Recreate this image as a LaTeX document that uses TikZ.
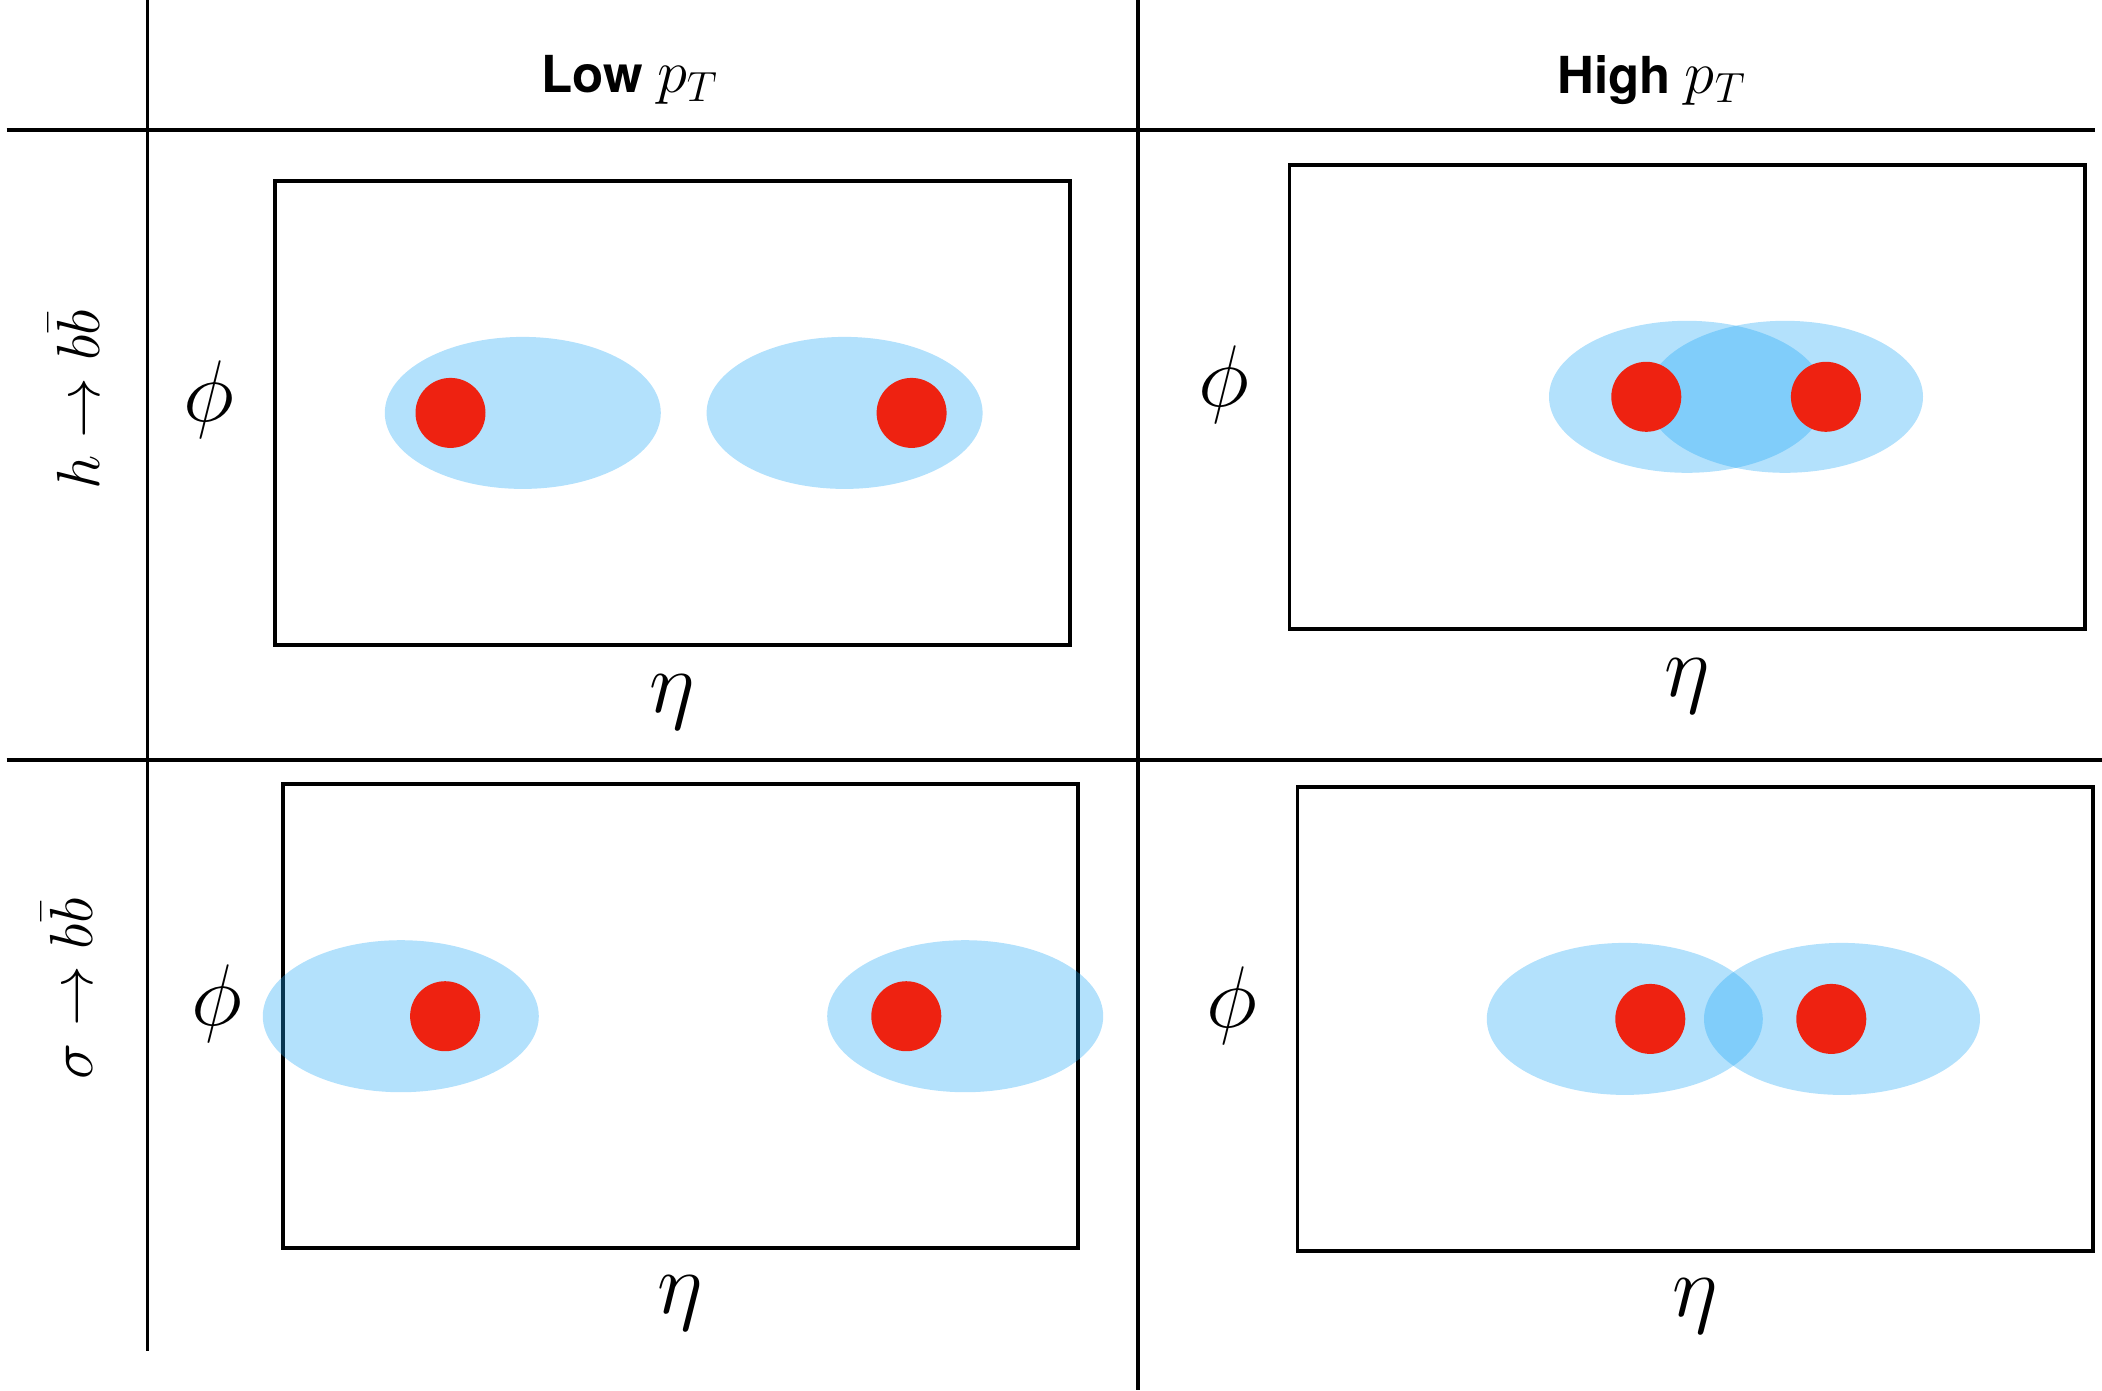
\documentclass[tikz,border=0pt]{standalone}
\usepackage{fontspec}
\setsansfont{TeX Gyre Heros}
\usepackage{tikz}
\usetikzlibrary{positioning,calc}
\definecolor{jetblue}{HTML}{18A4F6}
\definecolor{partonred}{HTML}{EE2211}

\begin{document}
\begin{tikzpicture}[
    x=0.01cm,y=-0.01cm,
    grid/.style={line width=1.1pt},
    panel/.style={draw,line width=1.1pt,minimum width=7.95cm,minimum height=4.638cm,inner sep=0pt},
    jet/.style={fill=jetblue,fill opacity=0.33},
    parton/.style={fill=partonred},
    head/.style={font=\fontsize{14.5}{18}\selectfont\sffamily\bfseries},
    rowlbl/.style={font=\fontsize{18.5}{22}\selectfont,rotate=90},
    axphi/.style={font=\fontsize{27}{30}\selectfont},
    axeta/.style={font=\fontsize{27}{30}\selectfont}
  ]
    \useasboundingbox (0,0) rectangle (2102,1390);

    % table lines
    \draw[grid] (147.5,0) -- (147.5,1351);
    \draw[grid] (1138,0) -- (1138,1390);
    \draw[grid] (6.7,130) -- (2095,130);
    \draw[grid] (6.7,760) -- (2102,760);

    % headers
    \node[head] (low) at (630,80) {Low \fontsize{17}{20}\selectfont$p_T$};
    \node[head] (high) at (1652,80) {High \fontsize{17}{20}\selectfont$p_T$};
    \node[rowlbl] (rowh) at (74,400) {$h \to b\bar{b}$};
    \node[rowlbl] (rowsig) at (67,989) {$\sigma \to b\bar{b}$};

    % panels
    \node[panel] (lowh) at (672.3,412.9) {};
    \node[panel] (highh) at (1687.2,396.8) {};
    \node[panel] (lowsig) at (680.4,1016.2) {};
    \node[panel] (highsig) at (1695.2,1018.9) {};

    \node[axphi] (phi1) at ([xshift=-0.64cm,yshift=0.13cm]lowh.west) {$\phi$};
    \node[axphi] (phi2) at ([xshift=-0.64cm,yshift=0.12cm]highh.west) {$\phi$};
    \node[axphi] (phi3) at ([xshift=-0.64cm,yshift=0.13cm]lowsig.west) {$\phi$};
    \node[axphi] (phi4) at ([xshift=-0.64cm,yshift=0.13cm]highsig.west) {$\phi$};
    \node[axeta] (eta1) at ([yshift=-0.55cm]lowh.south) {$\eta$};
    \node[axeta] (eta2) at ([yshift=-0.55cm]highh.south) {$\eta$};
    \node[axeta] (eta3) at ([yshift=-0.53cm]lowsig.south) {$\eta$};
    \node[axeta] (eta4) at ([yshift=-0.53cm]highsig.south) {$\eta$};

    % jets
    \fill[jet] (522.8,412.9) ellipse [x radius=138,y radius=76];
    \fill[jet] (844.6,412.9) ellipse [x radius=138,y radius=76];
    \fill[jet] (1687,396.8) ellipse [x radius=138,y radius=76];
    \fill[jet] (1785,396.8) ellipse [x radius=138,y radius=76];
    \fill[jet] (400.8,1016.2) ellipse [x radius=138,y radius=76];
    \fill[jet] (965.2,1016.2) ellipse [x radius=138,y radius=76];
    \fill[jet] (1624.8,1018.9) ellipse [x radius=138,y radius=76];
    \fill[jet] (1842,1018.9) ellipse [x radius=138,y radius=76];

    % b quarks
    \fill[parton] (450.5,412.9) circle [radius=35];
    \fill[parton] (911.6,412.9) circle [radius=35];
    \fill[parton] (1646.3,396.8) circle [radius=35];
    \fill[parton] (1825.9,396.8) circle [radius=35];
    \fill[parton] (445.1,1016.2) circle [radius=35];
    \fill[parton] (906.3,1016.2) circle [radius=35];
    \fill[parton] (1650.3,1018.9) circle [radius=35];
    \fill[parton] (1831.3,1018.9) circle [radius=35];
  \end{tikzpicture}
\end{document}
